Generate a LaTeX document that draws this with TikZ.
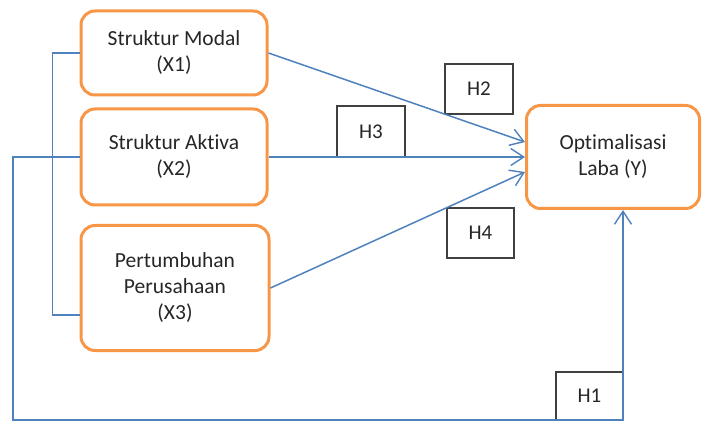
\documentclass[tikz,border=0pt]{standalone}
\usepackage{fontspec}
\setmainfont{Carlito}[Ligatures=NoCommon]
\usetikzlibrary{arrows.meta}
\definecolor{boxorange}{HTML}{F79646}
\definecolor{lineblue}{HTML}{4F81BD}
\definecolor{textgray}{HTML}{262626}
\begin{document}
\begin{tikzpicture}[
    x=1pt, y=-1pt,
    var/.style={draw=boxorange, line width=3pt, rectangle, rounded corners=14pt, align=center, text=textgray, font=\fontsize{21.5}{26}\selectfont, inner sep=0pt},
    hyp/.style={draw=black!75, line width=1.2pt, rectangle, align=center, text=textgray, font=\fontsize{21}{24}\selectfont, inner sep=0pt},
    link/.style={draw=lineblue, line width=1.5pt},
    tip/.style={-{Straight Barb[length=13pt,width=17pt,line width=1.4pt]}}
]
\useasboundingbox (0,0) rectangle (704,422);

\node (x1) [var, minimum width=186pt, minimum height=84pt] at (174,53) {Struktur Modal \\ (X1)};
\node (x2) [var, minimum width=186pt, minimum height=96pt] at (174,157) {Struktur Aktiva \\ (X2)};
\node (x3) [var, minimum width=188pt, minimum height=125pt] at (175,288) {Pertumbuhan \\ Perusahaan \\ (X3)};
\node (y) [var, minimum width=173pt, minimum height=103pt] at (613,157) {Optimalisasi \\ Laba (Y)};

\node (h2) [hyp, minimum width=68pt, minimum height=50pt] at (479,89) {H2};
\node (h3) [hyp, minimum width=68pt, minimum height=51pt] at (371,131.5) {H3};
\node (h4) [hyp, minimum width=67pt, minimum height=50pt] at (480.5,233) {H4};
\node (h1) [hyp, minimum width=67pt, minimum height=48pt] at (589.5,396) {H1};

\coordinate (left) at (13,157);
\coordinate (corner) at (13,420);

\draw[link] (x1.west) -- ++(-27,0) |- ([yshift=-27pt]x3.west);
\draw[link, tip] (x1.east) -- ([yshift=15pt]y.west);
\draw[link, tip] (x2.east) -- (y.west);
\draw[link, tip] (x3.east) -- ([yshift=-15pt]y.west);
\draw[link, tip] (x2.west) -- (left) -- (corner) -| ([xshift=10pt]y.south);

\end{tikzpicture}
\end{document}
